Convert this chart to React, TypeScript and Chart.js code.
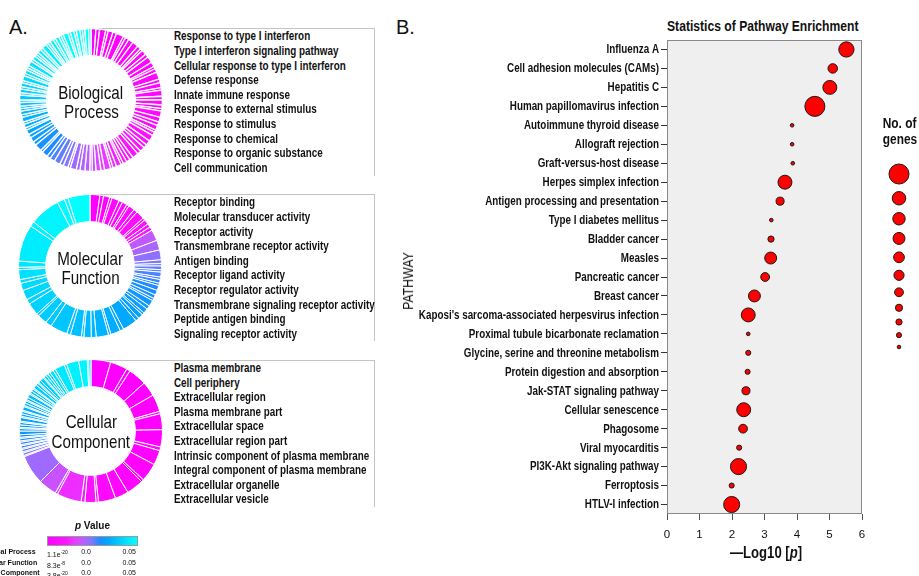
import React, { useEffect, useRef } from "react";
import { Chart, registerables } from "chart.js";

Chart.register(...registerables);

const SANS = "'Liberation Sans', Arial, Helvetica, sans-serif";
const SQUEEZE = 0.82; // the reference uses a condensed face

// ---------------- Panel A: GO enrichment donuts ----------------
const bpTerms = [
  "Response to type I interferon",
  "Type I interferon signaling pathway",
  "Cellular response to type I interferon",
  "Defense response",
  "Innate immune response",
  "Response to external stimulus",
  "Response to stimulus",
  "Response to chemical",
  "Response to organic substance",
  "Cell communication",
];
const mfTerms = [
  "Receptor binding",
  "Molecular transducer activity",
  "Receptor activity",
  "Transmembrane receptor activity",
  "Antigen binding",
  "Receptor ligand activity",
  "Receptor regulator activity",
  "Transmembrane signaling receptor activity",
  "Peptide antigen binding",
  "Signaling receptor activity",
];
const ccTerms = [
  "Plasma membrane",
  "Cell periphery",
  "Extracellular region",
  "Plasma membrane part",
  "Extracellular space",
  "Extracellular region part",
  "Intrinsic component of plasma membrane",
  "Integral component of plasma membrane",
  "Extracellular organelle",
  "Extracellular vesicle",
];

// slice sizes (term sizes) and p values, clockwise from 12 o'clock
const bpSizes = [
  4, 3, 5, 2, 4, 3, 6, 2, 3, 4, 5, 3, 2, 4, 3, 5, 4, 2, 3, 6, 3, 4, 2, 5, 3, 4, 3, 2, 5, 4, 3, 4, 2, 3, 5, 4, 3, 4, 3, 5, 3, 3,
  3, 2, 4, 3, 2, 5, 3, 4, 3, 2, 4,
  4, 3, 5, 2, 4, 3, 5, 4,
  3, 5, 2, 6, 3, 4, 3, 4,
  2, 3, 2, 4, 2, 3, 2, 2, 3, 2, 4, 2, 3, 2, 3, 2, 4,
  2, 3, 2, 2, 4, 2, 3, 2, 2, 3, 2, 4, 2, 2, 3, 2, 3, 2, 2, 4, 2, 3, 2, 3, 2, 2, 3, 2,
];
const bpPvals = [
  0, 0, 0.0001, 0.0002, 0.0003, 0.0004, 0.0005, 0.0006, 0.0008, 0.001, 0.0012, 0.0014, 0.0016, 0.0018, 0.002, 0.0022,
  0.0024, 0.0026, 0.0028, 0.003, 0.0032, 0.0034, 0.0036, 0.0038, 0.004, 0.0042, 0.0044, 0.0046, 0.0048, 0.005, 0.0053,
  0.0056, 0.0059, 0.0062, 0.0065, 0.0068, 0.0071, 0.0074, 0.0077, 0.008, 0.0084, 0.0088,
  0.0095, 0.0105, 0.0115, 0.0125, 0.0135, 0.0145, 0.0155, 0.0165, 0.0175, 0.0185, 0.0195,
  0.0205, 0.021, 0.022, 0.023, 0.024, 0.025, 0.026, 0.027,
  0.0285, 0.029, 0.0295, 0.03, 0.031, 0.032, 0.033, 0.034,
  0.0345, 0.035, 0.0355, 0.036, 0.0365, 0.037, 0.0375, 0.038, 0.0385, 0.039, 0.0395, 0.04, 0.0405, 0.041, 0.0415, 0.042, 0.0425,
  0.043, 0.0433, 0.0436, 0.044, 0.0443, 0.0446, 0.045, 0.0453, 0.0456, 0.046, 0.0463, 0.0466, 0.047, 0.0473, 0.0476, 0.048,
  0.0483, 0.0486, 0.0488, 0.049, 0.0492, 0.0494, 0.0495, 0.0496, 0.0497, 0.0498, 0.0499, 0.05,
];

const mfSizes = [
  8, 3, 5, 2, 6, 3, 4, 2, 5, 3, 7, 2, 4, 3, 3,
  9, 8, 8,
  3, 2, 3, 2, 4, 2, 3, 2, 4,
  4, 3, 2, 5, 3, 4, 2, 4, 3,
  12, 3, 8, 2, 10, 4, 6, 2, 9, 3, 14, 5, 8, 2, 10, 4, 8,
  6, 3, 8, 2, 5, 30, 4, 25, 6, 3, 18,
];
const mfPvals = [
  0, 0.0007, 0.0014, 0.002, 0.0027, 0.0034, 0.004, 0.0047, 0.0054, 0.006, 0.0067, 0.0074, 0.008, 0.0088, 0.0095,
  0.019, 0.021, 0.023,
  0.025, 0.0255, 0.026, 0.0265, 0.027, 0.0275, 0.028, 0.0285, 0.029,
  0.0295, 0.03, 0.0305, 0.031, 0.0315, 0.032, 0.0325, 0.033, 0.0335,
  0.034, 0.0345, 0.035, 0.0355, 0.036, 0.0365, 0.037, 0.0375, 0.038, 0.0385, 0.039, 0.0395, 0.04, 0.0405, 0.041, 0.0415, 0.042,
  0.0425, 0.043, 0.0435, 0.044, 0.045, 0.046, 0.047, 0.048, 0.049, 0.0495, 0.05,
];

const ccSizes = [
  16, 14, 3, 15, 12, 14, 2, 13, 14, 3, 12, 15, 2, 14, 11,
  14, 2, 9,
  3, 20, 2,
  15,
  24, 1,
  2, 1, 2, 1, 2, 1, 2, 1,
  2, 1, 2, 3, 2, 1, 2,
  2, 1, 3, 1, 2, 2, 1, 3, 1, 2, 2, 1, 2, 3, 1, 2, 2, 1, 3, 2, 1, 2, 3, 1, 2, 2, 2,
  3, 2, 8, 2, 10, 7, 1, 2,
];
const ccPvals = [
  0, 0.0001, 0.0002, 0.0003, 0.0004, 0.0005, 0.0006, 0.0008, 0.001, 0.0012, 0.0015, 0.0018, 0.0021, 0.0025, 0.003,
  0.004, 0.006, 0.008,
  0.011, 0.013, 0.015,
  0.018,
  0.022, 0.0235,
  0.025, 0.0255, 0.026, 0.0265, 0.027, 0.0275, 0.028, 0.0285,
  0.029, 0.0295, 0.03, 0.0305, 0.031, 0.0315, 0.032,
  0.0325, 0.033, 0.0333, 0.0337, 0.034, 0.0345, 0.035, 0.0353, 0.0357, 0.036, 0.0365, 0.037, 0.0373, 0.0377, 0.038,
  0.0385, 0.039, 0.0393, 0.0397, 0.04, 0.0405, 0.041, 0.0413, 0.0417, 0.042, 0.0423, 0.0425,
  0.043, 0.044, 0.045, 0.046, 0.047, 0.048, 0.049, 0.05,
];

const pRowNames = ["Biological Process", "Molecular Function", "Cellular Component"];
const pRowMinBase = ["1.1e", "8.3e", "3.8e"];
const pRowMinExp = ["-20", "-8", "-20"];
const pRowMid = ["0.0", "0.0", "0.0"];
const pRowMax = ["0.05", "0.05", "0.05"];
const P_MAX = 0.05;

// ---------------- Panel B: KEGG pathway enrichment ----------------
const pathways = [
  "Influenza A",
  "Cell adhesion molecules (CAMs)",
  "Hepatitis C",
  "Human papillomavirus infection",
  "Autoimmune thyroid disease",
  "Allograft rejection",
  "Graft-versus-host disease",
  "Herpes simplex infection",
  "Antigen processing and presentation",
  "Type I diabetes mellitus",
  "Bladder cancer",
  "Measles",
  "Pancreatic cancer",
  "Breast cancer",
  "Kaposi's sarcoma-associated herpesvirus infection",
  "Proximal tubule bicarbonate reclamation",
  "Glycine, serine and threonine metabolism",
  "Protein digestion and absorption",
  "Jak-STAT signaling pathway",
  "Cellular senescence",
  "Phagosome",
  "Viral myocarditis",
  "PI3K-Akt signaling pathway",
  "Ferroptosis",
  "HTLV-I infection",
];
const negLog10P = [
  5.52, 5.1, 5.01, 4.55, 3.85, 3.85, 3.87, 3.63, 3.48, 3.21, 3.2, 3.19, 3.02, 2.69, 2.5, 2.5, 2.5, 2.48, 2.43, 2.36, 2.34,
  2.22, 2.2, 1.99, 1.99,
];
const geneCounts = [18, 7, 15, 31, 1, 1, 1, 15, 5, 1, 3, 11, 6, 11, 15, 1, 2, 2, 5, 15, 6, 2, 20, 2, 20];
const xTickMin = 0;
const xTickMax = 6;
const legendGenes = [31, 14, 12, 11, 9, 8, 6, 4, 3, 2, 1];

// ---------------- helpers ----------------
const COLOR_STOPS: [number, number[]][] = [
  [0, [255, 0, 255]],
  [0.2, [250, 22, 255]],
  [0.3, [230, 62, 255]],
  [0.4, [182, 96, 255]],
  [0.5, [122, 122, 255]],
  [0.58, [30, 140, 255]],
  [0.68, [0, 168, 255]],
  [0.8, [0, 204, 255]],
  [0.9, [0, 232, 255]],
  [1, [0, 255, 255]],
];

function pColor(p: number): string {
  const t = Math.max(0, Math.min(1, p / P_MAX));
  for (let i = 1; i < COLOR_STOPS.length; i++) {
    const [t1, c1] = COLOR_STOPS[i];
    const [t0, c0] = COLOR_STOPS[i - 1];
    if (t <= t1) {
      const f = (t - t0) / (t1 - t0 || 1);
      const c = c0.map((v, k) => Math.round(v + (c1[k] - v) * f));
      return `rgb(${c[0]},${c[1]},${c[2]})`;
    }
  }
  return "rgb(0,255,255)";
}

const gradientCss = `linear-gradient(to right, ${COLOR_STOPS.map(
  ([t, c]) => `rgb(${c[0]},${c[1]},${c[2]}) ${t * 100}%`
).join(", ")})`;

function geneRadius(n: number): number {
  return 1.8 * Math.sqrt(n);
}

function Sq(props: { children: any; origin?: string }) {
  return (
    <span
      style={{
        display: "inline-block",
        transform: `scaleX(${SQUEEZE})`,
        transformOrigin: props.origin || "left center",
        whiteSpace: "nowrap",
      }}
    >
      {props.children}
    </span>
  );
}

// ---------------- components ----------------
function Donut(props: { sizes: number[]; pvals: number[]; left: number; top: number; size: number; border: number }) {
  const ref = useRef<HTMLCanvasElement>(null);
  useEffect(() => {
    const chart = new Chart(ref.current as HTMLCanvasElement, {
      type: "doughnut",
      data: {
        labels: props.sizes.map((_, i) => `term ${i + 1}`),
        datasets: [
          {
            data: props.sizes,
            backgroundColor: props.pvals.map(pColor),
            borderColor: "#ffffff",
            borderWidth: props.border,
            hoverOffset: 0,
            offset: 0,
          },
        ],
      },
      options: {
        responsive: false,
        animation: false,
        events: [],
        cutout: "62%",
        layout: { padding: 0 },
        plugins: { legend: { display: false }, tooltip: { enabled: false } },
      } as any,
    });
    return () => chart.destroy();
  }, []);
  return (
    <canvas
      ref={ref}
      width={props.size}
      height={props.size}
      style={{ position: "absolute", left: props.left, top: props.top, width: props.size, height: props.size }}
    />
  );
}

function PathwayChart() {
  const ref = useRef<HTMLCanvasElement>(null);
  useEffect(() => {
    const plotFrame = {
      id: "plotFrame",
      beforeDatasetsDraw(chart: any) {
        const { ctx, chartArea: a } = chart;
        ctx.save();
        ctx.fillStyle = "#efefef";
        ctx.fillRect(a.left, a.top, a.right - a.left, a.bottom - a.top);
        ctx.strokeStyle = "#8a8a8a";
        ctx.lineWidth = 1;
        ctx.strokeRect(
          Math.round(a.left) + 0.5,
          Math.round(a.top) + 0.5,
          Math.round(a.right - a.left) - 1,
          Math.round(a.bottom - a.top) - 1
        );
        ctx.restore();
      },
    };
    // condensed category labels, placed at the category scale's own tick pixels
    const condensedLabels = {
      id: "condensedLabels",
      afterDraw(chart: any) {
        const s = chart.scales.y;
        const ctx = chart.ctx;
        ctx.save();
        ctx.font = `bold 12.3px ${SANS}`;
        ctx.fillStyle = "#111";
        ctx.textAlign = "right";
        ctx.textBaseline = "middle";
        s.ticks.forEach((t: any, i: number) => {
          const y = s.getPixelForTick(i);
          ctx.save();
          ctx.translate(s.right - 8, y + 0.5);
          ctx.scale(0.8, 1);
          ctx.fillText(s.getLabelForValue(t.value), 0, 0);
          ctx.restore();
        });
        ctx.restore();
      },
    };
    const chart = new Chart(ref.current as HTMLCanvasElement, {
      type: "bubble",
      data: {
        datasets: [
          {
            data: pathways.map((name, i) => ({ x: negLog10P[i], y: name, r: geneRadius(geneCounts[i]) })) as any,
            backgroundColor: "#ff0000",
            borderColor: "#1a1a1a",
            borderWidth: 1,
          },
        ],
      },
      options: {
        responsive: false,
        animation: false,
        events: [],
        layout: { padding: { top: 40, right: 57, left: 0, bottom: 0 } },
        plugins: { legend: { display: false }, tooltip: { enabled: false } },
        scales: {
          x: {
            type: "linear",
            min: xTickMin,
            max: xTickMax,
            ticks: { stepSize: 1, color: "#111", font: { family: SANS, size: 11.5 }, padding: 8 },
            grid: { drawOnChartArea: false, tickLength: 6, color: "#555" },
            border: { display: false },
            afterFit: (s: any) => {
              s.height = 62;
            },
          },
          y: {
            type: "category",
            labels: pathways,
            offset: true,
            ticks: { display: false, autoSkip: false },
            grid: { drawOnChartArea: false, tickLength: 6, color: "#333", offset: false },
            border: { display: false },
            afterFit: (s: any) => {
              s.width = 272;
            },
          },
        },
      } as any,
      plugins: [plotFrame, condensedLabels],
    });
    return () => chart.destroy();
  }, []);
  return <canvas ref={ref} width={524} height={576} style={{ position: "absolute", left: 395, top: 0, width: 524, height: 576 }} />;
}

// bubble legend: chart area is inset by the largest bubble (radius + border), so the
// canvas is grown by that margin and the scale runs in pixels of the inner area
const LEGEND_W = 40;
const LEGEND_H = 200;
function SizeLegend() {
  const ref = useRef<HTMLCanvasElement>(null);
  const radii = legendGenes.map(geneRadius);
  const inset = Math.max(...radii) + 1;
  useEffect(() => {
    const ys: number[] = [];
    let y = 14;
    radii.forEach((r, i) => {
      if (i > 0) y += radii[i - 1] + r + 7.5;
      ys.push(y);
    });
    const chart = new Chart(ref.current as HTMLCanvasElement, {
      type: "bubble",
      data: {
        datasets: [
          {
            data: legendGenes.map((n, i) => ({ x: 0, y: ys[i], r: radii[i] })),
            backgroundColor: "#ff0000",
            borderColor: "#1a1a1a",
            borderWidth: 1,
          },
        ],
      },
      options: {
        responsive: false,
        animation: false,
        events: [],
        layout: { padding: 0 },
        plugins: { legend: { display: false }, tooltip: { enabled: false } },
        scales: {
          x: { type: "linear", display: false, min: -1, max: 1 },
          y: { type: "linear", display: false, min: 0, max: LEGEND_H, reverse: true },
        },
      } as any,
    });
    return () => chart.destroy();
  }, []);
  const w = LEGEND_W + 2 * inset;
  const h = LEGEND_H + 2 * inset;
  return (
    <canvas
      ref={ref}
      width={w}
      height={h}
      style={{ position: "absolute", left: 879 - inset, top: 160 - inset, width: w, height: h }}
    />
  );
}

function TermList(props: { terms: string[]; left: number; top: number }) {
  return (
    <div
      style={{
        position: "absolute",
        left: props.left,
        top: props.top,
        font: `bold 12px ${SANS}`,
        lineHeight: "14.6px",
        color: "#111",
        whiteSpace: "nowrap",
      }}
    >
      {props.terms.map((t) => (
        <div key={t}>
          <Sq>{t}</Sq>
        </div>
      ))}
    </div>
  );
}

function Bracket(props: { top: number; height: number }) {
  return (
    <div
      style={{
        position: "absolute",
        left: 92,
        top: props.top,
        width: 283,
        height: props.height,
        borderTop: "1px solid #c4c4c4",
        borderRight: "1px solid #c4c4c4",
        boxSizing: "border-box",
      }}
    />
  );
}

function CenterLabel(props: { lines: string[]; cx: number; cy: number; lh: number }) {
  return (
    <div
      style={{
        position: "absolute",
        left: props.cx - 80,
        top: props.cy - (props.lines.length * props.lh) / 2,
        width: 160,
        textAlign: "center",
        font: `18.5px ${SANS}`,
        lineHeight: `${props.lh}px`,
        color: "#111",
      }}
    >
      {props.lines.map((l) => (
        <div key={l}>
          <Sq origin="center center">{l}</Sq>
        </div>
      ))}
    </div>
  );
}

function CenteredText(props: { cx: number; top: number; font: string; lh: number; children: any }) {
  return (
    <div
      style={{
        position: "absolute",
        left: props.cx - 200,
        top: props.top,
        width: 400,
        textAlign: "center",
        font: props.font,
        lineHeight: `${props.lh}px`,
        whiteSpace: "nowrap",
      }}
    >
      <Sq origin="center center">{props.children}</Sq>
    </div>
  );
}

export default function App() {
  return (
    <div
      style={{
        position: "absolute",
        left: 0,
        top: 0,
        width: 919,
        height: 576,
        overflow: "hidden",
        background: "#ffffff",
        color: "#111",
      }}
    >
      {/* Panel A */}
      <div style={{ position: "absolute", left: 9, top: 14, font: `20px ${SANS}`, lineHeight: "26px" }}>A.</div>

      <Bracket top={28} height={148} />
      <Bracket top={194} height={147} />
      <Bracket top={360} height={147} />

      <Donut sizes={bpSizes} pvals={bpPvals} left={19} top={28} size={144} border={1.3} />
      <Donut sizes={mfSizes} pvals={mfPvals} left={18} top={194} size={144} border={1} />
      <Donut sizes={ccSizes} pvals={ccPvals} left={19} top={359} size={144} border={1} />

      <CenterLabel lines={["Biological", "Process"]} cx={91} cy={102} lh={19} />
      <CenterLabel lines={["Molecular", "Function"]} cx={90} cy={268} lh={19.5} />
      <CenterLabel lines={["Cellular", "Component"]} cx={91} cy={432} lh={20.5} />

      <TermList terms={bpTerms} left={174} top={29.4} />
      <TermList terms={mfTerms} left={174} top={195.4} />
      <TermList terms={ccTerms} left={174} top={361} />

      {/* p value colour scale */}
      <div style={{ position: "absolute", left: 47, top: 520, width: 91, textAlign: "center", font: `bold 10px ${SANS}`, lineHeight: "12px" }}>
        <i>p</i> Value
      </div>
      <div
        style={{
          position: "absolute",
          left: 47,
          top: 536,
          width: 91,
          height: 10,
          background: gradientCss,
          border: "1px solid #9a9a9a",
          boxSizing: "border-box",
        }}
      />
      {pRowNames.map((name, i) => (
        <div key={name} style={{ position: "absolute", left: 0, top: 547 + i * 10.5, width: 140, height: 10.5, font: `7px ${SANS}`, lineHeight: "10.5px" }}>
          <span style={{ position: "absolute", left: -27, fontWeight: "bold", whiteSpace: "nowrap" }}>{name}</span>
          <span style={{ position: "absolute", left: 47, whiteSpace: "nowrap" }}>
            {pRowMinBase[i]}
            <sup style={{ fontSize: "5px", verticalAlign: "3px" }}>{pRowMinExp[i]}</sup>
          </span>
          <span style={{ position: "absolute", left: 76, width: 20, textAlign: "center" }}>{pRowMid[i]}</span>
          <span style={{ position: "absolute", left: 106, width: 30, textAlign: "right" }}>{pRowMax[i]}</span>
        </div>
      ))}

      {/* Panel B */}
      <div style={{ position: "absolute", left: 396, top: 14, font: `20px ${SANS}`, lineHeight: "26px" }}>B.</div>
      <CenteredText cx={763} top={17} font={`bold 14.8px ${SANS}`} lh={18}>
        Statistics of Pathway Enrichment
      </CenteredText>
      <PathwayChart />
      <div
        style={{
          position: "absolute",
          left: 408,
          top: 281,
          transform: `translate(-50%, -50%) rotate(-90deg) scaleX(${SQUEEZE})`,
          font: `15px ${SANS}`,
          lineHeight: "16px",
          whiteSpace: "nowrap",
        }}
      >
        PATHWAY
      </div>
      <CenteredText cx={766} top={544} font={`bold 16px ${SANS}`} lh={18}>
        —Log10 [<i>p</i>]
      </CenteredText>
      <CenteredText cx={900} top={115} font={`bold 14.5px ${SANS}`} lh={16}>
        No. of
      </CenteredText>
      <CenteredText cx={900} top={131} font={`bold 14.5px ${SANS}`} lh={16}>
        genes
      </CenteredText>
      <SizeLegend />
    </div>
  );
}
